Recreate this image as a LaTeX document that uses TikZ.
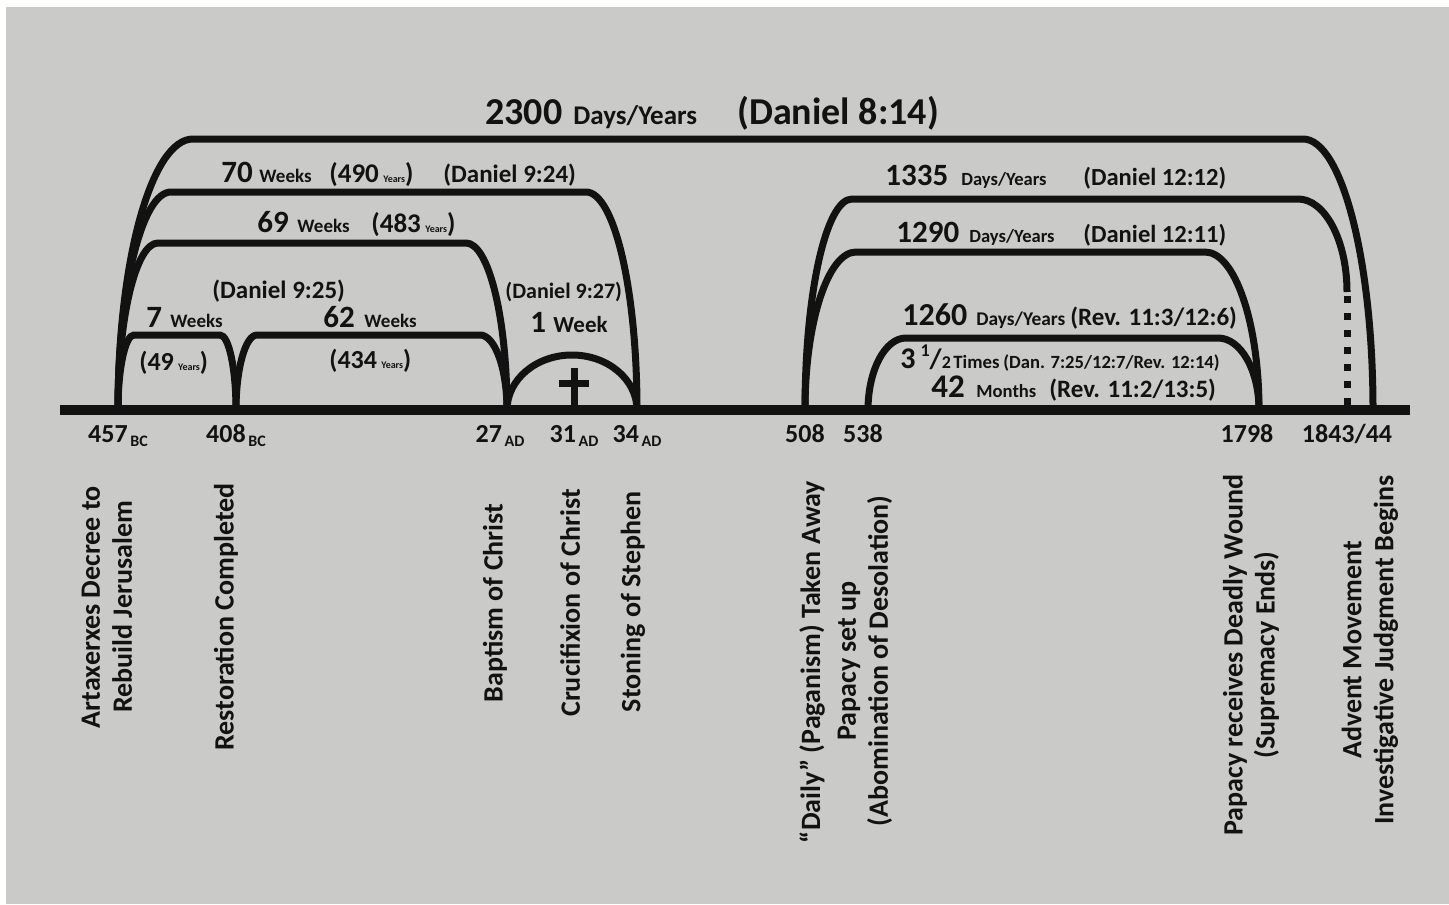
\documentclass[tikz,border=0pt]{standalone}
\usepackage{fontspec}
\setmainfont{Carlito}
\usepackage{xcolor}
\usetikzlibrary{positioning,calc}
\definecolor{paper}{RGB}{202,203,200}
\definecolor{ink}{RGB}{18,18,18}
\newcommand{\fsz}[1]{\fontsize{#1}{#1}\selectfont}

\begin{document}
\begin{tikzpicture}[x=0.5pt,y=0.5pt,
  arch/.style={line width=3.5pt,draw=ink},
  lbl/.style={anchor=base west,inner sep=0pt,font=\bfseries,text=ink},
  yearlbl/.style={anchor=base,inner sep=0pt,font=\bfseries\fsz{13},text=ink},
  eventlbl/.style={rotate=90,align=center,inner sep=0pt,font=\bfseries\fontsize{14}{16}\selectfont,text=ink}]
  \useasboundingbox (0,0) rectangle (1449,-904);
  \fill[white] (0,0) rectangle (1449,-904);
  \fill[paper] (6,-7) rectangle (1449,-904);

  % points on the time line
  \coordinate (lineL) at (60,-410);
  \coordinate (lineR) at (1410,-410);
  \coordinate (bc457) at (118,-410);
  \coordinate (bc408) at (236,-410);
  \coordinate (ad27) at (507,-410);
  \coordinate (ad31) at (574,-410);
  \coordinate (ad34) at (637,-410);
  \coordinate (ad508) at (805,-410);
  \coordinate (ad538) at (868,-410);
  \coordinate (ad1798) at (1259,-410);
  \coordinate (ad1844) at (1373,-410);
  \coordinate (dot1844) at (1347,-410);
  \coordinate (dotTop) at (1347,-296);

  \draw[line width=5pt,ink] (lineL) -- (lineR);

  % arches
  \draw[arch] (bc457) arc[start angle=180,end angle=90,x radius=75,y radius=271]
    -- (1303,-139) arc[start angle=90,end angle=0,x radius=70,y radius=271];
  \draw[arch] (bc457) arc[start angle=180,end angle=90,x radius=53,y radius=218]
    -- (586,-192) arc[start angle=90,end angle=0,x radius=51,y radius=218];
  \draw[arch] (bc457) arc[start angle=180,end angle=90,x radius=40,y radius=167]
    -- (466,-243) arc[start angle=90,end angle=0,x radius=41,y radius=167];
  \draw[arch] (bc457) arc[start angle=180,end angle=90,x radius=16,y radius=75]
    -- (220,-335) arc[start angle=90,end angle=0,x radius=16,y radius=75];
  \draw[arch] (bc408) arc[start angle=180,end angle=90,x radius=21,y radius=75]
    -- (480,-335) arc[start angle=90,end angle=0,x radius=27,y radius=75];
  \draw[arch] (ad27) arc[start angle=180,end angle=0,x radius=65,y radius=55];
  \draw[arch] (ad508) arc[start angle=180,end angle=90,x radius=47,y radius=211]
    -- (1298,-199) arc[start angle=90,end angle=0,x radius=49,y radius=93];
  \draw[arch] (ad508) arc[start angle=180,end angle=90,x radius=51,y radius=158]
    -- (1205,-252) arc[start angle=90,end angle=0,x radius=54,y radius=158];
  \draw[arch] (ad538) arc[start angle=180,end angle=90,x radius=38,y radius=72]
    -- (1218,-338) arc[start angle=90,end angle=0,x radius=41,y radius=72];
  \draw[arch,dash pattern=on 3.5pt off 5pt] (dotTop) -- (dot1844);

  % cross
  \draw[arch] ([yshift=21pt]ad31) -- ([yshift=2.5pt]ad31);
  \draw[arch] ([xshift=-7.5pt,yshift=13.5pt]ad31) -- ([xshift=7.5pt,yshift=13.5pt]ad31);

  % period labels
  \node[lbl] (t2300) at (485,-125) {\fsz{19}2300};
  \node[lbl] (tdays) at (573,-125) {\fsz{13.5}Days/Years};
  \node[lbl] (tdan) at (737,-125) {\fsz{19}(Daniel 8:14)};

  \node[lbl] (w70) at (221,-182) {\fsz{15.5}70};
  \node[lbl] at (259,-182) {\fsz{9.5}Weeks};
  \node[lbl] at (329,-182) {\fsz{13.5}(490\,{\fsz{5}Years})};
  \node[lbl] at (443,-182) {\fsz{12.5}(Daniel 9:24)};

  \node[lbl] (w69) at (257,-232) {\fsz{15.5}69};
  \node[lbl] at (297,-232) {\fsz{9.5}Weeks};
  \node[lbl] at (371,-232) {\fsz{13.5}(483\,{\fsz{5}Years})};

  \node[lbl] at (212,-298) {\fsz{12.5}(Daniel 9:25)};
  \node[lbl] (w7) at (146,-327) {\fsz{15.5}7};
  \node[lbl] at (170,-327) {\fsz{9.5}Weeks};
  \node[lbl] at (139,-370) {\fsz{13}(49\,{\fsz{5}Years})};
  \node[lbl] (w62) at (323,-327) {\fsz{15.5}62};
  \node[lbl] at (364,-327) {\fsz{9.5}Weeks};
  \node[lbl] at (329,-368) {\fsz{13}(434\,{\fsz{5}Years})};

  \node[lbl] at (505,-298) {\fsz{11}(Daniel 9:27)};
  \node[lbl] (w1) at (530,-332) {\fsz{15.5}1};
  \node[lbl] at (553,-332) {\fsz{11.5}Week};

  \node[lbl] (d1335) at (885,-185) {\fsz{15.5}1335};
  \node[lbl] at (961,-185) {\fsz{9.3}Days/Years};
  \node[lbl] at (1083,-185) {\fsz{12.3}(Daniel 12:12)};

  \node[lbl] (d1290) at (896,-242) {\fsz{15.5}1290};
  \node[lbl] at (969,-242) {\fsz{9.3}Days/Years};
  \node[lbl] at (1083,-242) {\fsz{12.3}(Daniel 12:11)};

  \node[lbl] (d1260) at (902,-325) {\fsz{16}1260};
  \node[lbl] at (976,-325) {\fsz{9.7}Days/Years};
  \node[lbl] at (1070,-325) {\fsz{12.5}(Rev. 11:3/12:6)};

  \node[lbl] (t3half) at (900,-368) {\fsz{15}3\hspace{2.5pt}\fsz{9}\raisebox{6pt}{1}\fsz{14}/\fsz{9}2};
  \node[lbl] at (953,-368) {\fsz{9.4}Times};
  \node[lbl] at (1003,-368) {\fsz{9.3}(Dan. 7:25/12:7/Rev. 12:14)};

  \node[lbl] (m42) at (931,-397) {\fsz{16.5}42};
  \node[lbl] at (976,-397) {\fsz{9.3}Months};
  \node[lbl] at (1049,-397) {\fsz{12.5}(Rev. 11:2/13:5)};

  % year labels
  \node[yearlbl] (y457) at ([yshift=-16pt]bc457) {457{\fsz{8}\,\raisebox{-2pt}{BC}}};
  \node[yearlbl] (y408) at ([yshift=-16pt]bc408) {408{\fsz{8}\,\raisebox{-2pt}{BC}}};
  \node[yearlbl] (y27) at ([xshift=-3.5pt,yshift=-16pt]ad27) {27{\fsz{8}\,\raisebox{-2pt}{AD}}};
  \node[yearlbl] (y31) at ([yshift=-16pt]ad31) {31{\fsz{8}\,\raisebox{-2pt}{AD}}};
  \node[yearlbl] (y34) at ([yshift=-16pt]ad34) {34{\fsz{8}\,\raisebox{-2pt}{AD}}};
  \node[yearlbl] (y508) at ([yshift=-16pt]ad508) {508};
  \node[yearlbl] (y538) at ([xshift=-2.5pt,yshift=-16pt]ad538) {538};
  \node[yearlbl] (y1798) at ([xshift=-6pt,yshift=-16pt]ad1798) {1798};
  \node[yearlbl] (y1844) at ([yshift=-16pt]dot1844) {1843/44};

  % events
  \node[eventlbl] (ev457) at (107,-607) {Artaxerxes Decree to\\Rebuild Jerusalem};
  \node[eventlbl] (ev408) at (226,-617) {Restoration Completed};
  \node[eventlbl] (ev27) at (495,-603) {Baptism of Christ};
  \node[eventlbl] (ev31) at (570,-603) {Crucifixion of Christ};
  \node[eventlbl] (ev34) at (633,-602) {Stoning of Stephen};
  \node[eventlbl] (ev508) at (812,-662) {“Daily” (Paganism) Taken Away};
  \node[eventlbl] (ev538) at (865,-661) {Papacy set up\\(Abomination of Desolation)};
  \node[eventlbl] (ev1798) at (1251,-655) {Papacy receives Deadly Wound\\(Supremacy Ends)};
  \node[eventlbl] (ev1844) at (1370,-650) {Advent Movement\\Investigative Judgment Begins};
\end{tikzpicture}
\end{document}
